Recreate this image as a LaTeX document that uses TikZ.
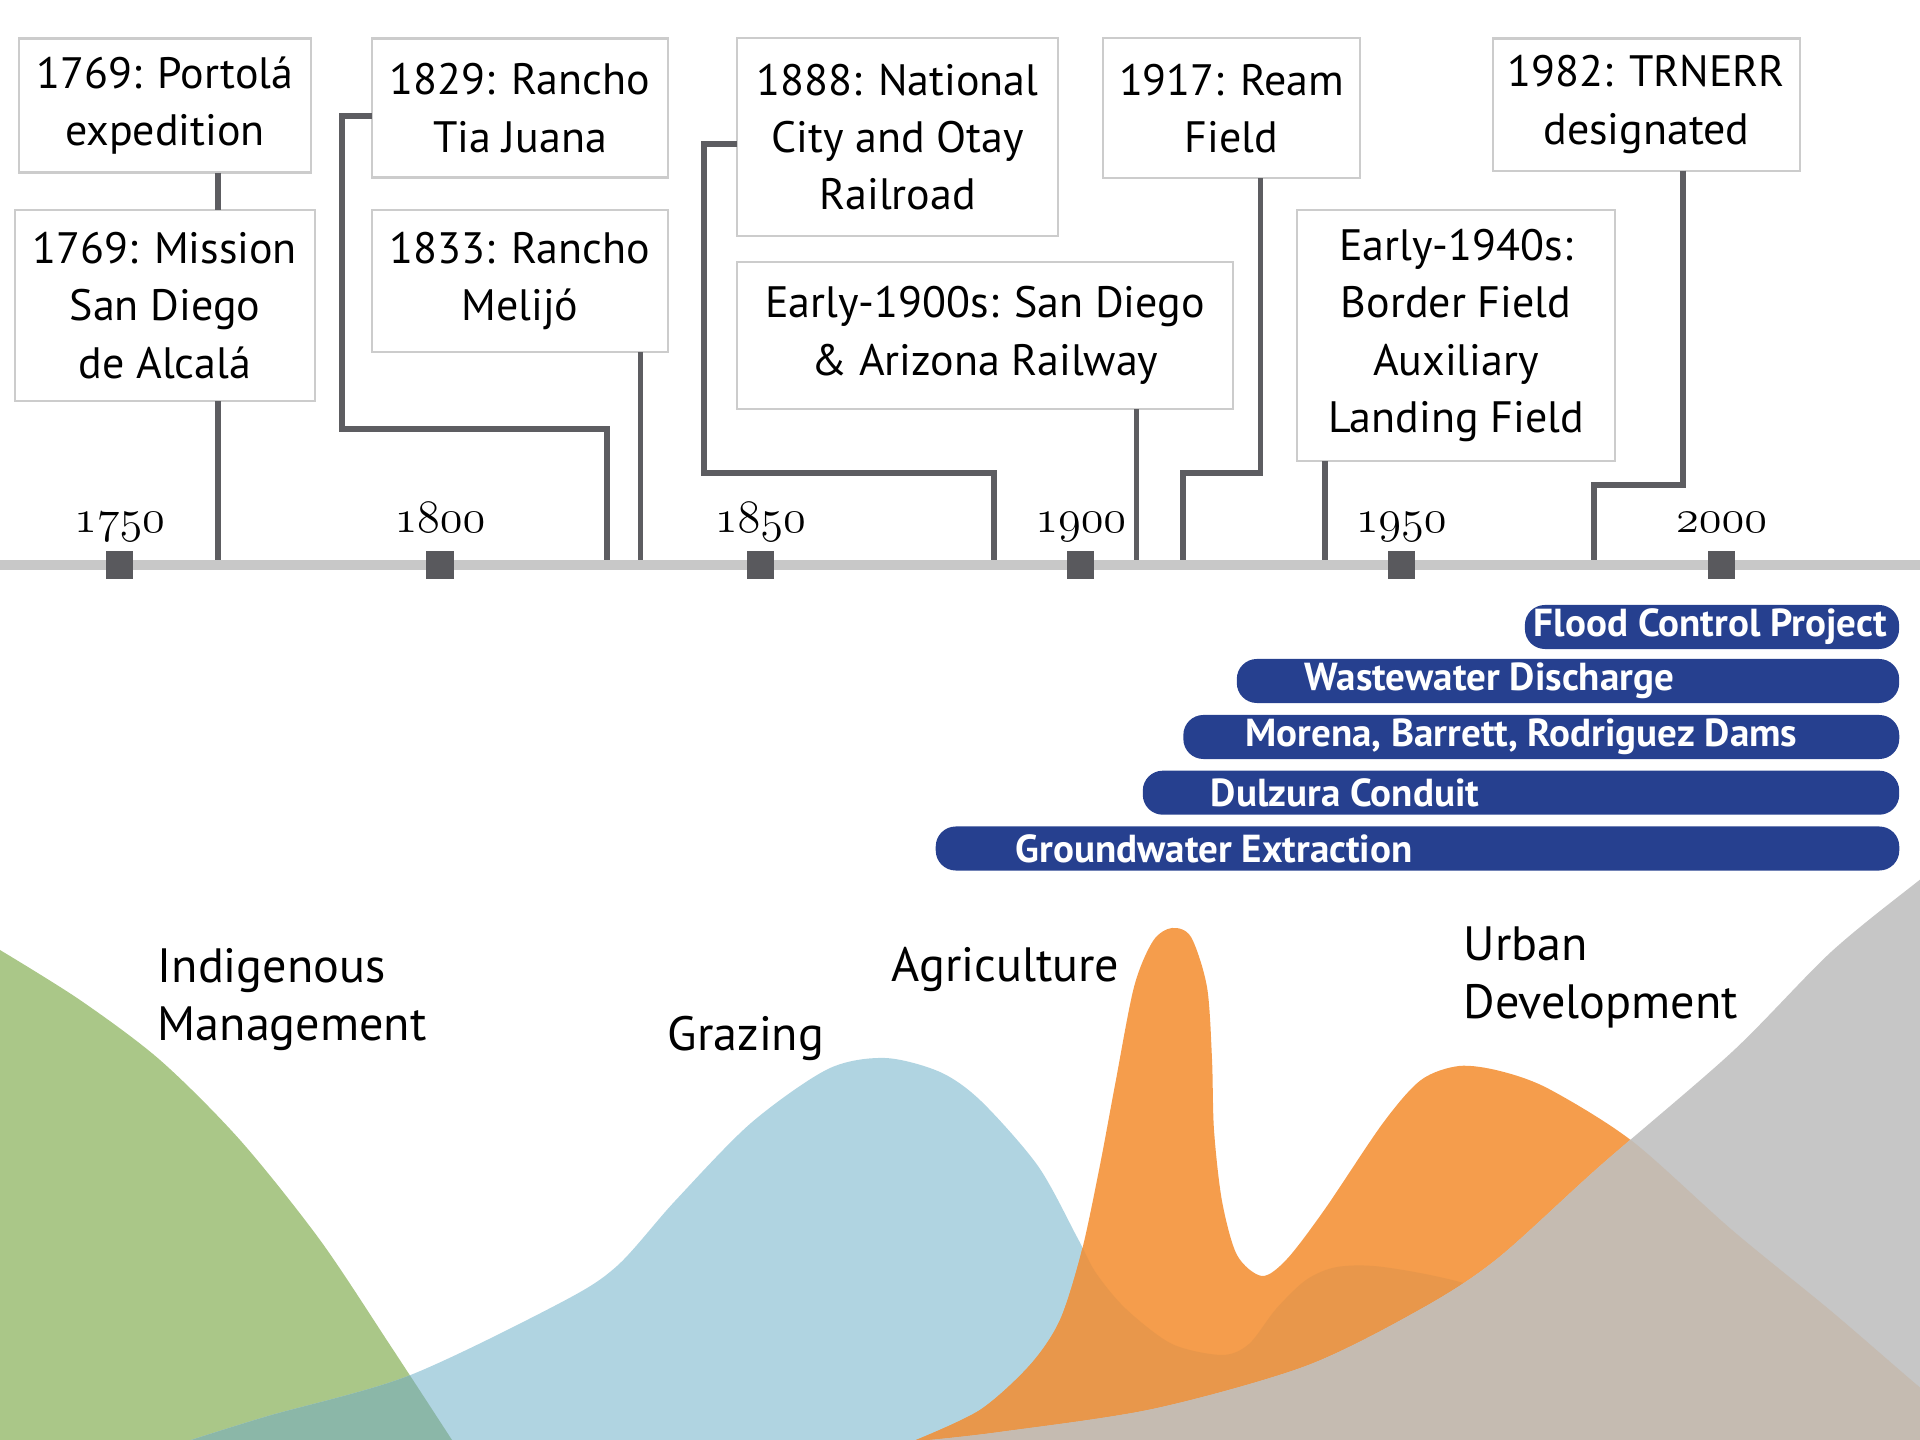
\documentclass[tikz,border=0pt]{standalone}
\usepackage{fontspec}
\setmainfont{PT Sans}[Numbers=OldStyle]
\usepackage{tikz}
\usetikzlibrary{positioning,calc}

\definecolor{BoxLine}{HTML}{CCCCCC}
\definecolor{LinkGray}{HTML}{5D5D61}
\definecolor{AxisGray}{HTML}{C8C8C8}
\definecolor{TickGray}{HTML}{59595D}
\definecolor{BarBlue}{HTML}{26408F}
\definecolor{IndGreen}{HTML}{AAC788}
\definecolor{GrazBlue}{HTML}{B0D4E1}
\definecolor{GrazInd}{HTML}{8BB7A8}
\definecolor{AgOrange}{HTML}{F59D4C}
\definecolor{AgGraz}{HTML}{E8974B}
\definecolor{UrbGray}{HTML}{C6C6C6}
\definecolor{UrbAg}{HTML}{C5BBB1}

% old style years on the axis
\DeclareFontFamily{OML}{yrs}{}
\DeclareFontShape{OML}{yrs}{m}{it}{<->cmmi12}{}
\newcommand{\yr}[1]{{\fontsize{13.2}{15}\usefont{OML}{yrs}{m}{it}#1}}

% land use layers
\newcommand{\indpath}{(0,1440) -- plot[smooth] coordinates {(0,950) (80,1000) (160,1060) (240,1140) (320,1240) (390,1345) (452,1440)} -- cycle}
\newcommand{\grazpath}{plot[smooth] coordinates {(191,1440) (268,1416) (408,1376) (560,1303) (617,1266) (675,1201) (751,1123) (828,1069) (885,1058) (940,1072) (981,1101) (1038,1166) (1077,1237) (1096,1273) (1126,1309) (1172,1344) (1222,1355) (1249,1344) (1276,1309) (1306,1280) (1337,1267) (1383,1267) (1467,1284) (1600,1330) (1750,1400) (1850,1440)} -- cycle}
\newcommand{\agpath}{plot[smooth] coordinates {(916,1440) (980,1410) (1030,1365) (1060,1320) (1082,1250) (1100,1165) (1115,1085) (1134,987) (1153,941) (1172,928) (1191,937) (1207,987) (1212,1059) (1214,1130) (1222,1201) (1237,1255) (1262,1276) (1287,1259) (1325,1209) (1383,1123) (1421,1080) (1459,1066) (1500,1071) (1549,1089) (1632,1141) (1732,1230) (1831,1311) (1917,1385) (1960,1420)} -- (1960,1440) -- cycle}
\newcommand{\urbpath}{plot[smooth] coordinates {(930,1440) (1000,1432) (1153,1409) (1306,1366) (1421,1309) (1497,1259) (1600,1166) (1732,1052) (1831,952) (1917,882) (1960,850)} -- (1960,1440) -- cycle}

\begin{document}
\begin{tikzpicture}[x=0.01cm, y=-0.01cm]
  \tikzset{BoxStyle/.style = {shape        = rectangle,
                              draw         = BoxLine,
                              line width   = 0.6pt,
                              fill         = white,
                              text         = black,
                              align        = center,
                              inner sep    = 0pt,
                              outer sep    = 0pt,
                              font         = \fontsize{12.5}{16.3}\selectfont}}
  \tikzset{LinkStyle/.style = {draw=LinkGray, line width=1.7pt}}
  \tikzset{TickStyle/.style = {fill=TickGray, minimum size=0.27cm, inner sep=0pt}}
  \tikzset{BarStyle/.style = {fill=BarBlue, rounded corners=0.2cm, minimum height=0.44cm, inner sep=0pt}}
  \tikzset{BarText/.style = {text=white, inner sep=0pt, font=\fontsize{11.1}{12}\selectfont\bfseries}}
  \tikzset{LayerText/.style = {align=left, inner sep=0pt, font=\fontsize{13.7}{16.6}\selectfont}}
  \useasboundingbox (0,0) rectangle (1920,1440);

  %%% LAND USE LAYERS %%%
  \fill[IndGreen] \indpath;
  \fill[GrazBlue] \grazpath;
  \begin{scope}
    \clip \indpath;
    \fill[GrazInd] \grazpath;
  \end{scope}
  \fill[AgOrange] \agpath;
  \begin{scope}
    \clip \agpath;
    \fill[AgGraz] \grazpath;
  \end{scope}
  \fill[UrbGray] \urbpath;
  \begin{scope}
    \clip \urbpath;
    \fill[UrbAg] \agpath;
  \end{scope}

  % base anchor sits on the last line
  \node[LayerText, anchor=base west] (ind) at (157,1041) {Indigenous\\Management};
  \node[LayerText, anchor=base west] (graz) at (667,1051) {Grazing};
  \node[LayerText, anchor=base west] (agri) at (891,982) {Agriculture};
  \node[LayerText, anchor=base west] (urb) at (1463,1019) {Urban\\Development};

  %%% EVENT BOXES %%%
  \node[BoxStyle, minimum width=2.91cm, minimum height=1.34cm] (portola) at (165,105.5) {1769: Portolá\\expedition};
  \node[BoxStyle, minimum width=2.99cm, minimum height=1.91cm] (mission) at (165,305.6) {1769: Mission\\San Diego\\de Alcalá};
  \node[BoxStyle, minimum width=2.96cm, minimum height=1.39cm] (tiajuana) at (520,108) {1829: Rancho\\Tia Juana};
  \node[BoxStyle, minimum width=2.96cm, minimum height=1.42cm] (melijo) at (520,281) {1833: Rancho\\Melijó};
  \node[BoxStyle, minimum width=3.21cm, minimum height=1.98cm] (otay) at (897.7,137.3) {1888: National\\City and Otay\\Railroad};
  \node[BoxStyle, minimum width=4.96cm, minimum height=1.47cm] (sdaz) at (985,335.5) {Early-1900s: San Diego\\\& Arizona Railway};
  \node[BoxStyle, minimum width=2.57cm, minimum height=1.40cm] (ream) at (1231.5,108.3) {1917: Ream\\Field};
  \node[BoxStyle, minimum width=3.18cm, minimum height=2.51cm] (border) at (1456,335.5) {Early-1940s:\\Border Field\\Auxiliary\\Landing Field};
  \node[BoxStyle, minimum width=3.07cm, minimum height=1.32cm] (trnerr) at (1646.5,104.6) {1982: TRNERR\\designated};

  %%% CONNECTORS %%%
  \coordinate (t1769) at (218,565);
  \coordinate (t1829) at (607,565);
  \coordinate (t1833) at (640.5,565);
  \coordinate (t1888) at (994,565);
  \coordinate (t1900s) at (1136.5,565);
  \coordinate (t1917) at (1183,565);
  \coordinate (t1940s) at (1325,565);
  \coordinate (t1982) at (1594,565);
  \draw[LinkStyle] (portola.south -| t1769) -- (mission.north -| t1769);
  \draw[LinkStyle] (mission.south -| t1769) -- (t1769);
  \draw[LinkStyle] ($(tiajuana.west)+(0,8)$) -| (342,429) -| (t1829);
  \draw[LinkStyle] (melijo.south -| t1833) -- (t1833);
  \draw[LinkStyle] ($(otay.west)+(0,7)$) -| (704,473) -| (t1888);
  \draw[LinkStyle] (sdaz.south -| t1900s) -- (t1900s);
  \draw[LinkStyle] ($(ream.south)+(29,0)$) |- ($(t1917)+(0,-92)$) -- (t1917);
  \draw[LinkStyle] (border.south -| t1940s) -- (t1940s);
  \draw[LinkStyle] ($(trnerr.south)+(36.5,0)$) |- ($(t1982)+(0,-80)$) -- (t1982);

  %%% TIME AXIS %%%
  \coordinate (axL) at (0,565);
  \coordinate (axR) at (1920,565);
  \draw[draw=AxisGray, line width=2.9pt] (axL) -- (axR);
  \foreach \yy [count=\i from 0] in {1750,1800,1850,1900,1950,2000}{
    \node[TickStyle] (tk\yy) at (119.6+320.4*\i,565) {};
    \node[anchor=base, inner sep=0pt] (yr\yy) at (119.6+320.4*\i,533) {\yr{\yy}};
  }

  %%% WATER PROJECTS %%%
  \node[BarStyle, minimum width=3.74cm] (flood) at (1712,627) {};
  \node[BarStyle, minimum width=6.62cm] (waste) at (1568,681) {};
  \node[BarStyle, minimum width=7.155cm] (dams) at (1541.3,737) {};
  \node[BarStyle, minimum width=7.56cm] (conduit) at (1521,792.7) {};
  \node[BarStyle, minimum width=9.63cm] (ground) at (1417.5,848.5) {};
  \node[BarText, right=0.09cm of flood.west] (floodt) {Flood Control Project};
  \node[BarText, right=0.68cm of waste.west] (wastet) {Wastewater Discharge};
  \node[BarText, right=0.62cm of dams.west] (damst) {Morena, Barrett, Rodriguez Dams};
  \node[BarText, right=0.68cm of conduit.west] (conduitt) {Dulzura Conduit};
  \node[BarText, right=0.80cm of ground.west] (groundt) {Groundwater Extraction};
\end{tikzpicture}
\end{document}
